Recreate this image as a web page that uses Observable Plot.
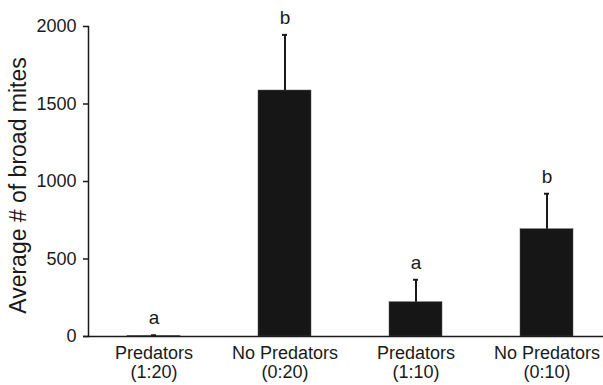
<!DOCTYPE html>
<html>
<head>
<meta charset="utf-8">
<script src="https://cdn.jsdelivr.net/npm/d3@7"></script>
<script src="https://cdn.jsdelivr.net/npm/@observablehq/plot@0.6"></script>
<style>
  body { margin: 0; background: #fff; }
  #chart svg { display: block; }
</style>
</head>
<body>
<div id="chart"></div>
<script>
const categories = ["Predators\n(1:20)", "No Predators\n(0:20)", "Predators\n(1:10)", "No Predators\n(0:10)"];
const means = [3, 1587, 221, 692];
const errorTops = [8, 1946, 366, 921];
const letters = ["a", "b", "a", "b"];
const yTicks = [0, 500, 1000, 1500, 2000];

const data = categories.map((c, i) => ({cat: c, mean: means[i], err: errorTops[i], letter: letters[i]}));

const font = "'Liberation Sans', Arial, Helvetica, sans-serif";
const ink = "#1a1a1a";

const chart = Plot.plot({
  width: 603,
  height: 385,
  marginTop: 26,
  marginBottom: 49,
  marginLeft: 88,
  marginRight: 0,
  style: {fontFamily: font, color: ink, background: "#fff"},
  x: {domain: categories, range: [88, 612], padding: 0, axis: null},
  y: {domain: [0, 2000], axis: null},
  marks: [
    Plot.barY(data, {x: "cat", y: "mean", fill: "#161616", stroke: "#555", strokeWidth: 0.5, insetLeft: 39, insetRight: 39}),
    Plot.ruleX(data, {x: "cat", y1: "mean", y2: "err", stroke: ink, strokeWidth: 2}),
    Plot.tickY(data, {x: "cat", y: "err", stroke: ink, strokeWidth: 2, insetLeft: 63, insetRight: 63}),
    Plot.text(data, {x: "cat", y: "err", text: "letter", dy: -17, fontSize: 19, fill: ink}),
    Plot.frame({anchor: "left", stroke: ink, strokeWidth: 1.5}),
    Plot.ruleY([0], {stroke: ink, strokeWidth: 1.5, insetLeft: -5}),
    Plot.axisY({ticks: yTicks, tickSize: 5, tickPadding: 7, fontSize: 18, tickFormat: d => String(d), stroke: ink, strokeWidth: 1.5, label: null}),
    Plot.axisX({tickSize: 0, tickPadding: 8, fontSize: 18, lineHeight: 1.1, label: null, tickFormat: d => d}),
    Plot.text(["Average # of broad mites"], {frameAnchor: "left", rotate: -90, dx: -63, dy: 4, fontSize: 23, fill: ink, textAnchor: "middle", lineAnchor: "bottom"})
  ]
});
document.getElementById("chart").appendChild(chart);
</script>
</body>
</html>
